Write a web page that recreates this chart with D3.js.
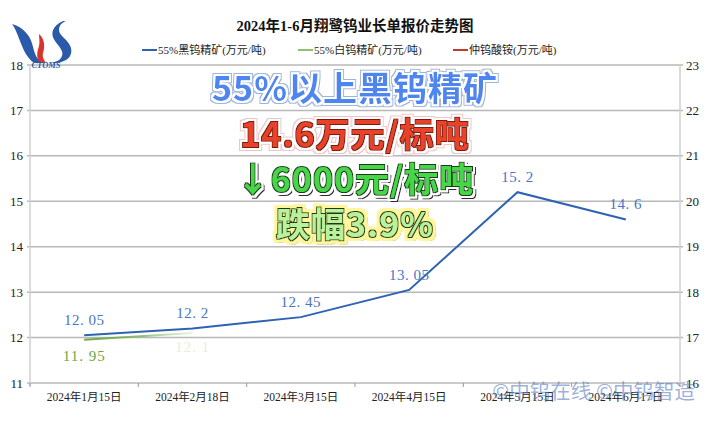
<!DOCTYPE html>
<html><head><meta charset="utf-8">
<script src="https://cdn.jsdelivr.net/npm/d3@7"></script>
<style>body{margin:0;background:#fff}svg{display:block}</style>
</head><body>
<script>
const categories = ["2024年1月15日","2024年2月18日","2024年3月15日","2024年4月15日","2024年5月15日","2024年6月17日"];
const blackTungsten = [12.05, 12.2, 12.45, 13.05, 15.2, 14.6];
const whiteTungsten = [11.95, 12.1];
const leftTicks = [11,12,13,14,15,16,17,18];
const rightTicks = [16,17,18,19,20,21,22,23];
const legendNames = ["55%黑钨精矿(万元/吨)","55%白钨精矿(万元/吨)","仲钨酸铵(万元/吨)"];
const title = "2024年1-6月翔鹭钨业长单报价走势图";
const overlayLines = ["55%以上黑钨精矿","14.6万元/标吨","↓6000元/标吨","跌幅3.9%"];
const watermark = "©中钨在线 ©中钨智造";

const W=710,H=426;
const svg=d3.select("body").append("svg").attr("width",W).attr("height",H);
const defs=svg.append("defs");
const serif="'Liberation Serif','DejaVu Serif','Noto Sans CJK SC',serif";
const sans="'Noto Sans CJK SC','Noto Sans',sans-serif";

const x=d3.scaleBand().domain(categories).range([30,680]);
const y=d3.scaleLinear().domain([11,18]).range([383,65]);
const y2=d3.scaleLinear().domain([16,23]).range([383,65]);

// gridlines
svg.append("g").selectAll("line").data(leftTicks).join("line")
  .attr("x1",27).attr("x2",683).attr("y1",d=>y(d)).attr("y2",d=>y(d))
  .attr("stroke","#b8b8b8").attr("stroke-width",1.5);
svg.append("line").attr("x1",30).attr("x2",30).attr("y1",65).attr("y2",386).attr("stroke","#d0d0d0").attr("stroke-width",1.5);
svg.append("line").attr("x1",680).attr("x2",680).attr("y1",65).attr("y2",383).attr("stroke","#d0d0d0").attr("stroke-width",1.5);
const xt=categories.map(c=>x(c)).concat([680]);
svg.append("g").selectAll("line").data(xt).join("line")
  .attr("x1",d=>d).attr("x2",d=>d).attr("y1",383).attr("y2",387).attr("stroke","#999");

svg.append("g").selectAll("text").data(leftTicks).join("text")
  .attr("x",23).attr("y",d=>y(d)).attr("dy","0.35em").attr("text-anchor","end")
  .attr("font-family",serif).attr("font-size",13).attr("fill","#222").text(d=>d);
svg.append("g").selectAll("text").data(rightTicks).join("text")
  .attr("x",686).attr("y",d=>y2(d)).attr("dy","0.35em")
  .attr("font-family",serif).attr("font-size",13).attr("fill","#222").text(d=>d);
svg.append("g").selectAll("text").data(categories).join("text")
  .attr("x",d=>x(d)+x.bandwidth()/2).attr("y",401).attr("text-anchor","middle")
  .attr("font-family",serif).attr("font-size",11.5).attr("fill","#222").text(d=>d);

svg.append("text").attr("x",355).attr("y",31).attr("text-anchor","middle")
  .attr("font-family",serif).attr("font-weight","bold").attr("font-size",14.5).attr("fill","#111").text(title);

const legCols=["#2e63b3","#8cc36c","#c0392b"];
const legX=[142,298,453];
legendNames.forEach((n,i)=>{
  svg.append("line").attr("x1",legX[i]).attr("x2",legX[i]+15).attr("y1",50).attr("y2",50).attr("stroke",legCols[i]).attr("stroke-width",2);
  svg.append("text").attr("x",legX[i]+16).attr("y",54).attr("font-family",serif).attr("font-size",11).attr("fill","#222").text(n);
});

const gg=defs.append("linearGradient").attr("id","gfade").attr("gradientUnits","userSpaceOnUse")
  .attr("x1",x(categories[0])+x.bandwidth()/2).attr("x2",x(categories[1])+x.bandwidth()/2+25).attr("y1",0).attr("y2",0);
gg.append("stop").attr("offset","0").attr("stop-color","#6aa842").attr("stop-opacity",1);
gg.append("stop").attr("offset","0.45").attr("stop-color","#7cb55a").attr("stop-opacity",0.8);
gg.append("stop").attr("offset","1").attr("stop-color","#c9dfb9").attr("stop-opacity",0);
const cx=(i)=>x(categories[i])+x.bandwidth()/2;
const line=d3.line().x((d,i)=>cx(i)).y(d=>y(d));
svg.append("path").datum(whiteTungsten).attr("d",line).attr("fill","none").attr("stroke","url(#gfade)").attr("stroke-width",2);
svg.append("g").selectAll("text").data(whiteTungsten).join("text")
  .attr("x",(d,i)=>cx(i)).attr("y",(d,i)=>y(d)+(i===0?21:19)).attr("text-anchor","middle")
  .attr("font-family",serif).attr("font-size",15).attr("letter-spacing",1)
  .attr("fill",(d,i)=>i===0?"#6aa842":"#e6eedc").text(d=>String(d).replace(".",". "));

svg.append("path").datum(blackTungsten).attr("d",line).attr("fill","none").attr("stroke","#2e63b3").attr("stroke-width",2);
svg.append("g").selectAll("text").data(blackTungsten).join("text")
  .attr("x",(d,i)=>cx(i)).attr("y",(d,i)=>y(d)-10).attr("text-anchor","middle")
  .attr("font-family",serif).attr("font-size",15).attr("letter-spacing",0.5)
  .attr("fill","#4a74c4").text(d=>String(d).replace(".",". "));

// logo
const logo=svg.append("g");
logo.append("path").attr("d","M12,24 C24,27 31,37 33,47 C35,55 37,59 42,63 L34,63 C27,58 23,49 20,41 C17,33 15,28 12,24 Z").attr("fill","#2a5aa8");
logo.append("path").attr("d","M39,34 C45,39 45,47 43,53 C42,57 44,60 46,63 L40,63 C36,58 37,52 39,46 C40,42 39,38 39,34 Z").attr("fill","#d9342b");
logo.append("path").attr("d","M63,21 C52,26 50,34 55,41 C60,48 65,52 61,58 C59,61 55,62 50,63 L56,63 C67,62 73,56 71,48 C69,40 59,36 59,30 C59,26 61,23 66,21 Z").attr("fill","#2a5aa8");
logo.append("text").attr("x",46).attr("y",68).attr("text-anchor","middle").attr("font-family",serif)
  .attr("font-style","italic").attr("font-weight","bold").attr("font-size",8.5).attr("fill","#2a5aa8").text("CTOMS");

// overlay text using outline filters
const oy=[89,135,180,225];
const styles=[
  {fill:"#4d86ee",layers:[["#9fb6dc",3],["#ffffff",2]]},
  {fill:"#e8432a",layers:[["#f0c4c4",3.6],["#ffffff",2.6],["#7a1a10",0.8]]},
  {fill:"#46d646",layers:[["#ffffff",2.6],["#1a3a1a",1]],shadow:[2,2,"#2b2b2b",1.5]},
  {fill:"#b9f29a",layers:[["#fff59a",3.6],["#1f3a12",1.3]],shadow:[2,2,"#2b2b2b",1.5]}
];
styles.forEach((st,i)=>{
  const f=defs.append("filter").attr("id","ol"+i).attr("x","-10%").attr("y","-30%").attr("width","120%").attr("height","160%");
  const names=[];
  if(st.shadow){
    const [dx,dy,c,r]=st.shadow;
    f.append("feMorphology").attr("in","SourceAlpha").attr("operator","dilate").attr("radius",r).attr("result","sd");
    f.append("feOffset").attr("in","sd").attr("dx",dx).attr("dy",dy).attr("result","so");
    f.append("feFlood").attr("flood-color",c).attr("result","sc");
    f.append("feComposite").attr("in","sc").attr("in2","so").attr("operator","in").attr("result","sh");
    names.push("sh");
  }
  st.layers.forEach(([c,r],k)=>{
    f.append("feMorphology").attr("in","SourceAlpha").attr("operator","dilate").attr("radius",r).attr("result","d"+k);
    f.append("feFlood").attr("flood-color",c).attr("result","c"+k);
    f.append("feComposite").attr("in","c"+k).attr("in2","d"+k).attr("operator","in").attr("result","l"+k);
    names.push("l"+k);
  });
  const m=f.append("feMerge");
  names.forEach(n=>m.append("feMergeNode").attr("in",n));
  m.append("feMergeNode").attr("in","SourceGraphic");
});
svg.append("g").selectAll("text").data(overlayLines).join("text")
  .attr("x",355).attr("y",(d,i)=>oy[i]).attr("dy","0.36em").attr("text-anchor","middle")
  .attr("font-family",sans).attr("font-weight","bold").attr("font-size",34).attr("letter-spacing",1)
  .attr("fill",(d,i)=>styles[i].fill).attr("filter",(d,i)=>`url(#ol${i})`).text(d=>d);

svg.append("text").attr("x",695).attr("y",392).attr("dy","0.35em").attr("text-anchor","end")
  .attr("font-family",sans).attr("font-size",20.5).attr("fill","#5a7cc0").attr("fill-opacity",0.6).text(watermark);
</script>
</body></html>
